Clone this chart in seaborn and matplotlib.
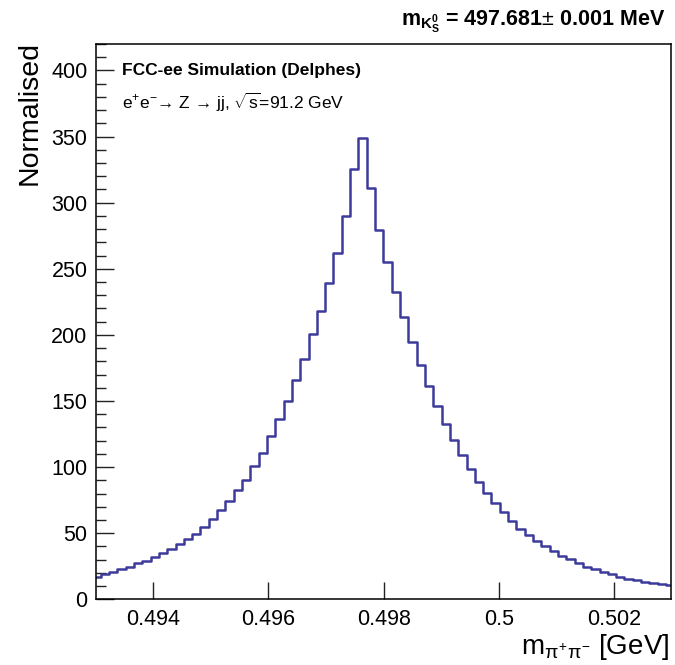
import numpy as np
import pandas as pd
import matplotlib
matplotlib.use('Agg')
import matplotlib.pyplot as plt
from matplotlib.ticker import MultipleLocator, NullLocator
import seaborn as sns

# Histogram of the reconstructed K0S mass
edge_lo = 0.492942
bin_width = 0.0001444
bin_values = [17.1, 18.9, 20.4, 22.7, 24.6, 27.2, 29.2, 31.7, 34.7, 37.8,
              41.5, 45.3, 49.2, 54.8, 61.0, 67.4, 74.5, 82.3, 90.3, 100.8,
              111.0, 123.3, 136.1, 149.8, 165.9, 181.5, 200.5, 218.2, 239.2, 262.0,
              290.0, 325.7, 348.6, 311.3, 279.5, 254.8, 232.6, 213.5, 194.3, 177.0,
              161.1, 146.0, 132.9, 120.3, 108.8, 98.4, 88.8, 80.5, 72.7, 65.7,
              59.5, 53.5, 48.6, 44.0, 40.3, 36.7, 32.9, 30.2, 27.2, 24.6,
              22.7, 20.6, 18.9, 17.1, 15.6, 14.6, 13.3, 12.3, 11.3, 10.8]
x_ticks = [0.494, 0.496, 0.498, 0.5, 0.502]
x_tick_labels = ['0.494', '0.496', '0.498', '0.5', '0.502']

n_bins = len(bin_values)
edges = edge_lo + bin_width * np.arange(n_bins + 1)
centers = edges[:-1] + bin_width / 2
df = pd.DataFrame({'mass': centers, 'weight': bin_values})

sns.set_style('ticks')
plt.rcParams['font.family'] = ['Liberation Sans', 'DejaVu Sans']
plt.rcParams['mathtext.fontset'] = 'custom'
plt.rcParams['mathtext.rm'] = 'Liberation Sans'
plt.rcParams['mathtext.it'] = 'Liberation Sans'
plt.rcParams['mathtext.bf'] = 'Liberation Sans:bold'
plt.rcParams['mathtext.fallback'] = 'cm'
plt.rcParams['text.color'] = 'black'
plt.rcParams['axes.labelcolor'] = 'black'
plt.rcParams['xtick.color'] = 'black'
plt.rcParams['ytick.color'] = 'black'

fig = plt.figure(figsize=(6.75, 6.65), dpi=100)
ax = fig.add_axes([0.1418, 0.0988, 0.853, 0.835])

line_color = '#3c3a9a'
sns.histplot(data=df, x='mass', weights='weight', bins=n_bins,
             binrange=(edges[0], edges[-1]), element='step',
             fill=False, color=line_color, linewidth=1.8, ax=ax)

ax.set_xlim(0.493, 0.503)
ax.set_ylim(0, 420)
ax.set_xticks(x_ticks)
ax.set_xticklabels(x_tick_labels)
ax.xaxis.set_minor_locator(NullLocator())
ax.yaxis.set_major_locator(MultipleLocator(50))
ax.yaxis.set_minor_locator(MultipleLocator(10))
ax.tick_params(axis='both', which='major', direction='in', labelsize=15.5,
               width=1, color='#222222', labelcolor='black', pad=6)
ax.tick_params(axis='x', which='major', length=12.5, pad=7)
ax.tick_params(axis='y', which='major', length=13)
ax.tick_params(axis='y', which='minor', direction='in', length=7, width=1, color='#222222')
for s in ax.spines.values():
    s.set_linewidth(1.1)
    s.set_color('black')

ax.set_ylabel('Normalised', fontsize=20.5, loc='top', color='black')
ax.yaxis.set_label_coords(-0.092, 1.006)
ax.set_xlabel(r'm$_{\pi^{+}\pi^{-}}$ [GeV]', fontsize=20, loc='right', color='black')
ax.xaxis.set_label_coords(0.997, -0.058)

ax.text(0.046, 0.953, 'FCC-ee Simulation (Delphes)', transform=ax.transAxes,
        fontsize=12.5, fontweight='bold', ha='left', va='center')
ax.text(0.046, 0.895, 'e$^{+}$e$^{-}$\u2192 Z \u2192 jj, $\\sqrt{s}$=91.2 GeV',
        transform=ax.transAxes, fontsize=12.5, ha='left', va='center')

fig.text(0.985, 0.968, r'$\mathbf{m}_{\mathbf{K^{0}_{S}}}$ = 497.681$\pm$ 0.001 MeV',
         fontsize=15.5, fontweight='bold', ha='right', va='center')

fig.savefig('out.png', dpi=100)
plt.close(fig)
